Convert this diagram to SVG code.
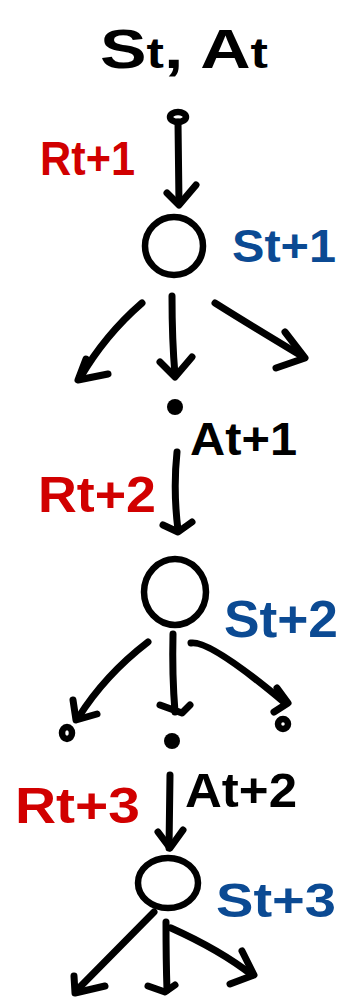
<svg xmlns="http://www.w3.org/2000/svg" width="349" height="1000" viewBox="0 0 349 1000">
<style>
.ln{fill:none;stroke:#000;stroke-width:7;stroke-linecap:round;stroke-linejoin:round}
.nd{fill:none;stroke:#000;stroke-width:6.5}
.t{font-family:"Liberation Sans",Arial,sans-serif;font-weight:bold}
.k{fill:#000}
.r{fill:#d10000}
.b{fill:#0b4a93}
</style>
<rect width="349" height="1000" fill="#fff"/>
<g id="title"><text class="t k" x="100" y="68" font-size="56" textLength="168" lengthAdjust="spacingAndGlyphs">S<tspan font-size="42">t</tspan>, A<tspan font-size="42">t</tspan></text></g>
<g id="root"><ellipse cx="178" cy="117" rx="8" ry="5" class="nd" stroke-width="5"/></g>
<g id="s1"><circle cx="174" cy="246" r="29" class="nd"/><text class="t b" x="232" y="262" font-size="46" textLength="104" lengthAdjust="spacingAndGlyphs">St+1</text></g>
<g id="r1"><text class="t r" x="40" y="175" font-size="48" textLength="95" lengthAdjust="spacingAndGlyphs">Rt+1</text></g>
<g id="a1"><circle cx="175" cy="407" r="8" fill="#000"/><text class="t k" x="190" y="455" font-size="46" textLength="107" lengthAdjust="spacingAndGlyphs">At+1</text></g>
<g id="r2"><text class="t r" x="38" y="512" font-size="50" textLength="118" lengthAdjust="spacingAndGlyphs">Rt+2</text></g>
<g id="s2"><ellipse cx="175" cy="592" rx="31" ry="33" class="nd"/><text class="t b" x="224" y="637" font-size="52" textLength="114" lengthAdjust="spacingAndGlyphs">St+2</text></g>
<g id="leaf1"><ellipse cx="67" cy="733" rx="5" ry="6" class="nd" stroke-width="5"/></g>
<g id="a2"><circle cx="172" cy="741" r="8" fill="#000"/><text class="t k" x="185" y="807" font-size="48" textLength="112" lengthAdjust="spacingAndGlyphs">At+2</text></g>
<g id="leaf2"><ellipse cx="283" cy="724" rx="5" ry="5" class="nd" stroke-width="5"/></g>
<g id="r3"><text class="t r" x="15" y="823" font-size="50" textLength="125" lengthAdjust="spacingAndGlyphs">Rt+3</text></g>
<g id="s3"><ellipse cx="168" cy="883" rx="30" ry="25" class="nd"/><text class="t b" x="216" y="917" font-size="48" textLength="120" lengthAdjust="spacingAndGlyphs">St+3</text></g>
<g id="connectors">
<path class="ln" d="M178 122 L179 204"/><path class="ln" d="M167 193 L179 205 L196 185"/>
<path class="ln" d="M142 303 Q105 335 80 378"/><path class="ln" d="M86 359 L78 380 L108 374"/>
<path class="ln" d="M172 296 Q172 340 175 375"/><path class="ln" d="M160 362 L175 377 L192 357"/>
<path class="ln" d="M215 303 Q250 325 300 355"/><path class="ln" d="M285 332 L305 358 L276 368"/>
<path class="ln" d="M177 452 Q173 490 178 530"/><path class="ln" d="M163 525 L178 532 L192 522"/>
<path class="ln" d="M148 642 Q105 675 78 718"/><path class="ln" d="M73 700 L76 720 L97 714"/>
<path class="ln" d="M173 634 Q172 675 175 712"/><path class="ln" d="M160 705 L182 713 L190 705"/>
<path class="ln" d="M191 643 Q210 640 285 703"/><path class="ln" d="M277 688 L288 703 L274 712"/>
<path class="ln" d="M170 775 L169 848"/><path class="ln" d="M158 832 L170 848 L183 830"/>
<path class="ln" d="M154 912 L77 990"/><path class="ln" d="M74 976 L75 993 L105 986"/>
<path class="ln" d="M166 922 Q166 960 167 990"/><path class="ln" d="M148 986 L165 992 L175 985"/>
<path class="ln" d="M171 928 Q220 950 252 975"/><path class="ln" d="M242 951 L254 975 L230 984"/>
</g>
</svg>
